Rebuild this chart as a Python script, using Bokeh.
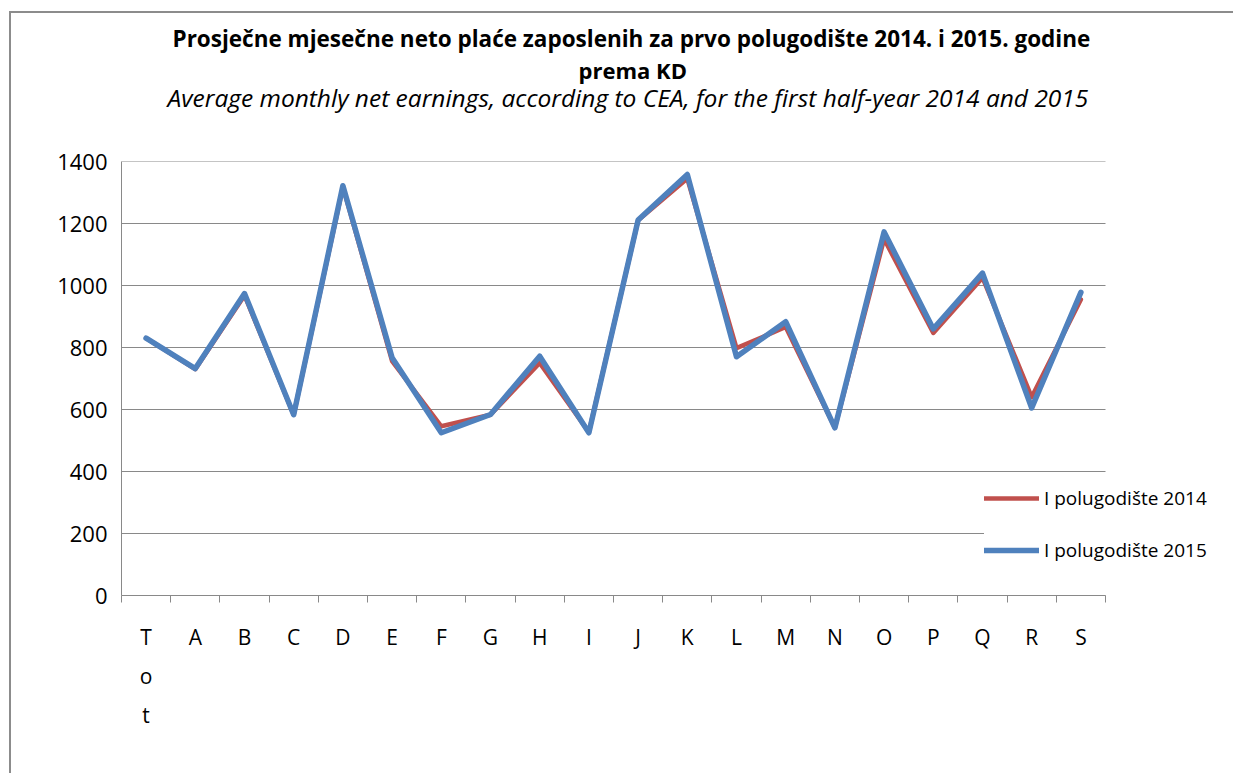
import numpy as np
from bokeh.plotting import figure
from bokeh.layouts import column, row
from bokeh.models import (FixedTicker, Title, Legend, LegendItem,
                          Range1d, Div)
from bokeh.embed import file_html
from bokeh.resources import INLINE

categories = ["Tot", "A", "B", "C", "D", "E", "F", "G", "H", "I",
              "J", "K", "L", "M", "N", "O", "P", "Q", "R", "S"]
h1_2014 = [830, 730, 968, 583, 1318, 756, 546, 583, 750, 527,
           1210, 1345, 798, 866, 541, 1150, 847, 1025, 640, 955]
h1_2015 = [830, 732, 974, 583, 1322, 767, 525, 584, 772, 525,
           1211, 1358, 770, 883, 541, 1173, 860, 1040, 605, 978]
y_ticks = [0, 200, 400, 600, 800, 1000, 1200, 1400]
series_names = ["I polugodište 2014", "I polugodište 2015"]

FONT = "Open Sans"
GRAY = "#898989"
BORDER = "#8c8c8c"

n = len(categories)
xs = list(np.arange(n) + 0.5)

W, H = 1222, 760
MB_LEFT, MB_RIGHT, MB_TOP, MB_BOTTOM = 110, 16, 148, 178
frame_w = W - MB_LEFT - MB_RIGHT
x_end = n * frame_w / 984.0   # plot area of categories is 984px wide

p = figure(width=W, height=H, output_backend="svg", toolbar_location=None,
           x_range=Range1d(0, x_end), y_range=Range1d(0, 1400),
           min_border_left=MB_LEFT, min_border_right=MB_RIGHT,
           min_border_top=MB_TOP, min_border_bottom=MB_BOTTOM)
p.margin = 0
p.title.visible = False
p.outline_line_color = None
p.background_fill_color = "white"
p.border_fill_color = "white"

# axes
xa = p.xaxis[0]
xa.ticker = FixedTicker(ticks=xs, minor_ticks=list(range(n + 1)))
xa.bounds = (0, n)
labels = {}
for x, c in zip(xs, categories):
    labels[float(x)] = "\n".join(c) if len(c) > 1 else c
xa.major_label_overrides = labels
xa.major_tick_line_color = None
xa.major_tick_out = 0
xa.minor_tick_line_color = GRAY
xa.minor_tick_out = 7
xa.minor_tick_in = 0
xa.axis_line_color = GRAY
xa.major_label_text_font = FONT
xa.major_label_text_font_size = "21px"
xa.major_label_text_color = "black"
xa.major_label_text_line_height = 1.4
xa.major_label_standoff = 20

ya = p.yaxis[0]
ya.ticker = FixedTicker(ticks=y_ticks)
ya.major_tick_line_color = None
ya.major_tick_out = 0
ya.minor_tick_line_color = None
ya.axis_line_color = GRAY
ya.major_label_text_font = FONT
ya.major_label_text_font_size = "22px"
ya.major_label_text_color = "black"
ya.major_label_standoff = 14

# horizontal gridlines spanning the category area only
p.xgrid.grid_line_color = None
p.ygrid.grid_line_color = None
p.segment(x0=[0] * len(y_ticks), x1=[n] * len(y_ticks), y0=y_ticks, y1=y_ticks,
          line_color=GRAY, line_width=1, level="underlay")

r1 = p.line(xs, h1_2014, line_color="#C0504D", line_width=4.5,
            line_join="round", line_cap="round")
r2 = p.line(xs, h1_2015, line_color="#4F81BD", line_width=5.5,
            line_join="round", line_cap="round")

legend = Legend(items=[LegendItem(label=series_names[0], renderers=[r1]),
                       LegendItem(label=series_names[1], renderers=[r2])],
                location=(863, 32), orientation="vertical",
                glyph_width=55, glyph_height=20, label_height=20,
                spacing=26, padding=13, label_standoff=5,
                border_line_color=None, background_fill_color="white",
                background_fill_alpha=1.0,
                label_text_font=FONT, label_text_font_size="19px",
                label_text_color="black")
p.add_layout(legend, "center")

# titles (added from frame outward)
spacer = Title(text=" ", text_font_size="21px", standoff=23)
t3 = Title(text="Average monthly net earnings, according to CEA, for the first half-year 2014 and 2015",
           align="left", offset=46, text_font=FONT, text_font_style="italic",
           text_font_size="24.5px", text_color="black", standoff=0)
t2 = Title(text="prema KD", align="left", offset=457, text_font=FONT,
           text_font_style="bold", text_font_size="22px", text_color="black",
           standoff=-13)
t1 = Title(text="Prosječne mjesečne neto plaće zaposlenih za prvo polugodište 2014. i 2015. godine",
           align="left", offset=51, text_font=FONT, text_font_style="bold",
           text_font_size="22.5px", text_color="black", standoff=12)
p.add_layout(spacer, "above")
p.add_layout(t3, "above")
p.add_layout(t2, "above")
p.add_layout(t1, "above")

# outer chart-area border (top and left edges visible in the window)
top_line = Div(text="", width=1224, height=2, margin=(11, 0, 0, 9),
               styles={"background-color": BORDER})
left_line = Div(text="", width=2, height=H, margin=(0, 0, 0, 9),
                styles={"background-color": BORDER})
layout = column(top_line, row(left_line, p, spacing=0, margin=0),
                spacing=0, margin=0)

open("out.html", "w").write(file_html(layout, INLINE))
